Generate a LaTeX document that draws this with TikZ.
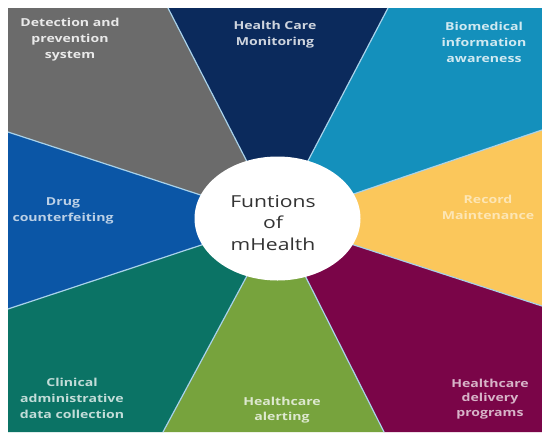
\documentclass[tikz,border=0pt]{standalone}
\usepackage{fontspec}
\usetikzlibrary{shapes.geometric}
\setmainfont{Open Sans}
\newfontfamily\labfont{Open Sans}[FakeStretch=1.28]
\definecolor{cgray}{HTML}{6B6B6B}
\definecolor{cnavy}{HTML}{0B2A5C}
\definecolor{ccyan}{HTML}{1490BC}
\definecolor{cyellow}{HTML}{FBC75B}
\definecolor{cpurple}{HTML}{7A0548}
\definecolor{cgreen}{HTML}{77A33D}
\definecolor{cteal}{HTML}{0B7365}
\definecolor{cblue}{HTML}{0B56A6}
\definecolor{csep}{HTML}{A9D2EA}
\definecolor{ctext}{HTML}{333333}
\begin{document}
\begin{tikzpicture}[x=1pt,y=-1pt,
  sepline/.style={draw=csep,line width=1.2pt},
  lab/.style={align=center,font=\labfont\bfseries\fontsize{11}{16}\selectfont,inner sep=0pt},
  hub/.style={ellipse,fill=white,minimum width=166pt,minimum height=124pt,inner sep=0pt}]
\useasboundingbox (0,0) rectangle (542,432);
\coordinate (C) at (277,220);
\coordinate (P1) at (168,8);
\coordinate (P2) at (388,8);
\coordinate (P3) at (542,130);
\coordinate (P4) at (542,306);
\coordinate (P5) at (384,432);
\coordinate (P6) at (163,432);
\coordinate (P7) at (8,309);
\coordinate (P8) at (8,132);
\coordinate (TL) at (8,8);
\coordinate (TR) at (542,8);
\coordinate (BR) at (542,432);
\coordinate (BL) at (8,432);
% sectors
\fill[cgray] (C) -- (P8) -- (TL) -- (P1) -- cycle;
\fill[cnavy] (C) -- (P1) -- (P2) -- cycle;
\fill[ccyan] (C) -- (P2) -- (TR) -- (P3) -- cycle;
\fill[cyellow] (C) -- (P3) -- (P4) -- cycle;
\fill[cpurple] (C) -- (P4) -- (BR) -- (P5) -- cycle;
\fill[cgreen] (C) -- (P5) -- (P6) -- cycle;
\fill[cteal] (C) -- (P6) -- (BL) -- (P7) -- cycle;
\fill[cblue] (C) -- (P7) -- (P8) -- cycle;
% separators
\foreach \p in {P1,P2,P3,P4,P5,P6,P7,P8} \draw[sepline] (C) -- (\p);
% hub
\node[hub] (hub) at (277.5,218.5) {};
\node[align=center,text=ctext,font=\labfont\fontsize{16.5}{21.5}\selectfont,inner sep=0pt] (hubtext) at (273,223) {Funtions\\of\\mHealth};
% labels
\node[lab,text=white!85!cgray] (l1) at (70,40) {Detection and\\prevention\\system};
\node[lab,text=white!80!cnavy] (l2) at (275,35) {Health Care\\Monitoring};
\node[lab,text=white!80!ccyan] (l3) at (484,42) {Biomedical\\information\\awareness};
\node[lab,text=white!55!cyellow] (l4) at (488,207) {Record\\Maintenance};
\node[lab,text=white!70!cpurple,font=\labfont\bfseries\fontsize{11}{14.5}\selectfont] (l5) at (490,399) {Healthcare\\delivery\\programs};
\node[lab,text=white!75!cgreen,font=\labfont\bfseries\fontsize{11}{15.5}\selectfont] (l6) at (282,410) {Healthcare\\alerting};
\node[lab,text=white!75!cteal] (l7) at (72,398) {Clinical\\administrative\\data collection};
\node[lab,text=white!72!cblue,font=\labfont\bfseries\fontsize{11}{15.5}\selectfont] (l8) at (63,211) {Drug\\counterfeiting};
\end{tikzpicture}
\end{document}
